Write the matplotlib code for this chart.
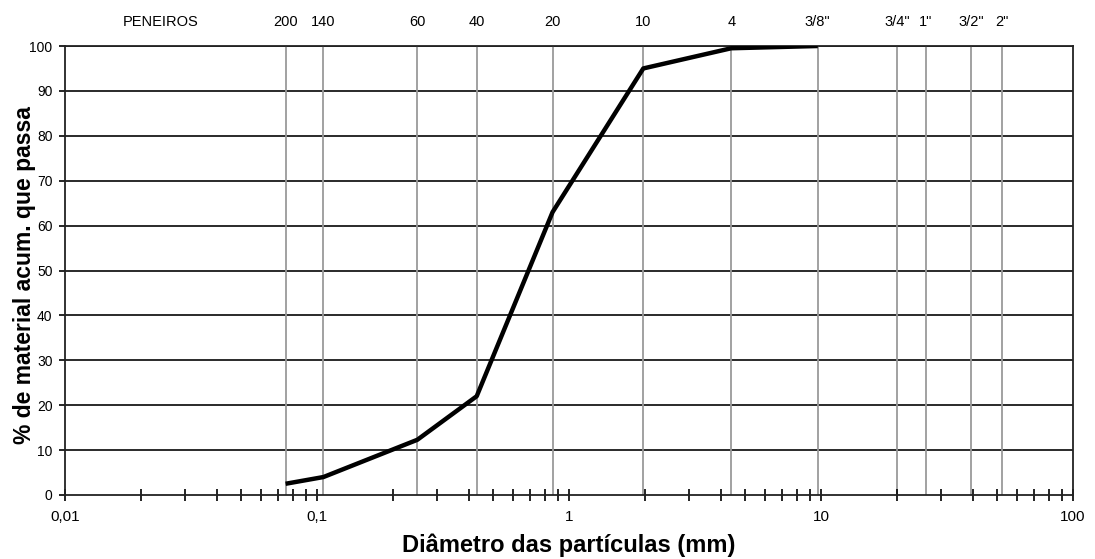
import numpy as np
import matplotlib
matplotlib.use("Agg")
import matplotlib.pyplot as plt
from matplotlib.ticker import FixedLocator, LogLocator, NullFormatter

plt.rcParams["font.family"] = ["Liberation Sans", "DejaVu Sans"]

sieve_mm = [0.075, 0.106, 0.25, 0.43, 0.86, 1.97, 4.4, 9.7, 20.0, 26.0, 39.5, 52.0]
sieve_names = ["200", "140", "60", "40", "20", "10", "4", '3/8"', '3/4"', '1"', '3/2"', '2"']

# curva granulométrica
diam = [0.075, 0.106, 0.25, 0.43, 0.86, 1.97, 4.4, 9.7]
passing = [2.5, 4.0, 12.3, 22.0, 63.0, 95.0, 99.5, 100.0]

x_ticks = [0.01, 0.1, 1, 10, 100]
x_ticklabels = ["0,01", "0,1", "1", "10", "100"]
y_ticks = list(range(0, 101, 10))


def main():
    fig = plt.figure(figsize=(10.95, 5.59), dpi=100)
    ax = fig.add_axes([0.0594, 0.1145, 0.9206, 0.8032])

    ax.set_xscale("log")
    ax.set_xlim(0.01, 100)
    ax.set_ylim(0, 100)

    # linhas horizontais
    for y in y_ticks[1:]:
        ax.axhline(y, color="#2a2a2a", lw=1.4, zorder=1)

    # linhas das peneiras
    for xs, name in zip(sieve_mm, sieve_names):
        ax.axvline(xs, color="#9a9a9a", lw=1.3, zorder=1)
        ax.text(xs, 1.053, name, transform=ax.get_xaxis_transform(),
                ha="center", va="center", fontsize=10.5)
    ax.text(0.024, 1.053, "PENEIROS", transform=ax.get_xaxis_transform(),
            ha="center", va="center", fontsize=10.5)

    ax.plot(diam, passing, color="black", lw=3.2, zorder=3, solid_capstyle="butt")

    ax.xaxis.set_major_locator(FixedLocator(x_ticks))
    ax.set_xticklabels(x_ticklabels, fontsize=11)
    ax.xaxis.set_minor_locator(LogLocator(base=10, subs=np.arange(2, 10), numticks=20))
    ax.xaxis.set_minor_formatter(NullFormatter())
    ax.tick_params(axis="x", which="both", direction="inout", length=8, width=1.2, pad=7)

    ax.set_yticks(y_ticks)
    ax.set_yticklabels([str(v) for v in y_ticks], fontsize=10)
    ax.tick_params(axis="y", direction="out", length=4, width=1.2, pad=5)

    for s in ax.spines.values():
        s.set_color("#222222")
        s.set_linewidth(1.3)

    ax.set_xlabel("Diâmetro das partículas (mm)", fontsize=17, fontweight="bold", labelpad=7)
    ax.set_ylabel("% de material acum. que passa", fontsize=16.5, fontweight="bold")
    ax.yaxis.set_label_coords(-0.029, 0.49)

    fig.savefig("out.png", dpi=100, facecolor="white")


if __name__ == "__main__":
    main()
